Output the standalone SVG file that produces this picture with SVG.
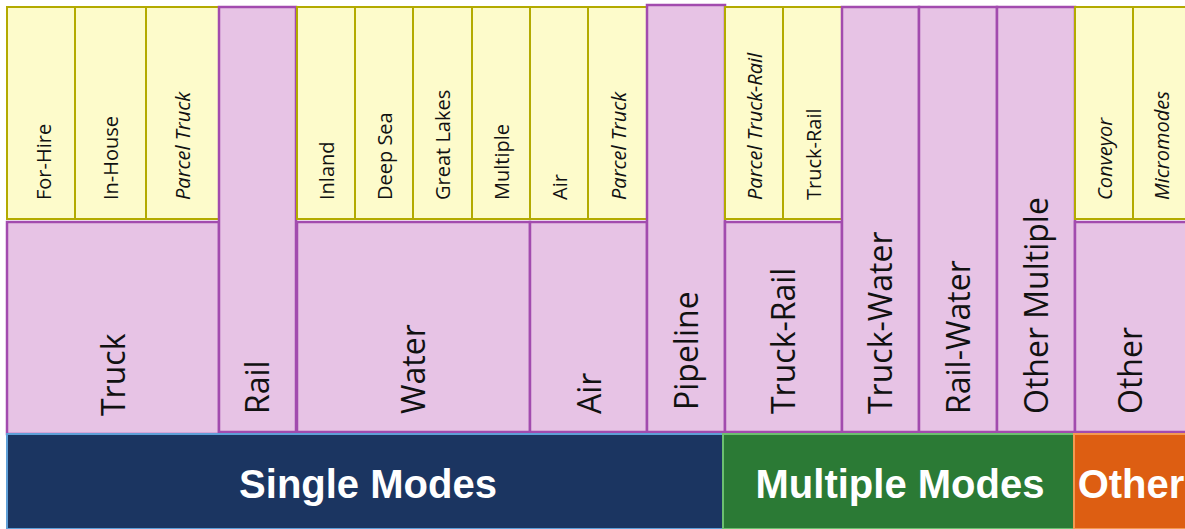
<svg xmlns="http://www.w3.org/2000/svg" width="1185" height="529" viewBox="0 0 1185 529">
<style>
.y{fill:#FDFBCB;stroke:#B3AA00;stroke-width:2}
.p{fill:#E7C3E5;stroke:#A24BAE;stroke-width:2.5}
.ty{font-family:"Open Sans","Liberation Sans",Arial,sans-serif;font-size:20px;fill:#111}
.ti{font-style:italic}
.tp{font-family:"Open Sans","Liberation Sans",Arial,sans-serif;font-size:32px;fill:#111}
.tb{font-family:"Liberation Sans",Arial,sans-serif;font-size:40px;font-weight:bold;fill:#fff;text-anchor:middle}
</style>
<rect width="1185" height="529" fill="#fff"/>
<g id="connectors"/>
<g id="truck">
<rect class="y" x="7" y="7" width="68" height="212"/>
<rect class="y" x="75" y="7" width="71" height="212"/>
<rect class="y" x="146" y="7" width="73" height="212"/>
<rect class="p" x="7" y="222" width="212" height="212"/>
<text class="ty" transform="translate(51,200) rotate(-90)">For-Hire</text>
<text class="ty" transform="translate(118,200) rotate(-90)">In-House</text>
<text class="ty ti" transform="translate(190,200) rotate(-90)">Parcel Truck</text>
<text class="tp" transform="translate(125,416) rotate(-90)">Truck</text>
</g>
<g id="rail">
<rect class="p" x="219" y="7" width="77" height="425"/>
<text class="tp" transform="translate(269,414) rotate(-90)">Rail</text>
</g>
<g id="water">
<rect class="y" x="297" y="7" width="58" height="212"/>
<rect class="y" x="355" y="7" width="58" height="212"/>
<rect class="y" x="413" y="7" width="59" height="212"/>
<rect class="y" x="472" y="7" width="58" height="212"/>
<rect class="p" x="297" y="222" width="233" height="210"/>
<text class="ty" transform="translate(334,200) rotate(-90)">Inland</text>
<text class="ty" transform="translate(392,200) rotate(-90)">Deep Sea</text>
<text class="ty" transform="translate(450,200) rotate(-90)">Great Lakes</text>
<text class="ty" transform="translate(509,200) rotate(-90)">Multiple</text>
<text class="tp" transform="translate(425,414) rotate(-90)">Water</text>
</g>
<g id="air">
<rect class="y" x="530" y="7" width="58" height="212"/>
<rect class="y" x="588" y="7" width="59" height="212"/>
<rect class="p" x="530" y="222" width="117" height="210"/>
<text class="ty" transform="translate(567,200) rotate(-90)">Air</text>
<text class="ty ti" transform="translate(626,200) rotate(-90)">Parcel Truck</text>
<text class="tp" transform="translate(601,414) rotate(-90)">Air</text>
</g>
<g id="pipeline">
<rect class="p" x="647" y="5" width="78" height="427"/>
<text class="tp" transform="translate(698,410) rotate(-90)">Pipeline</text>
</g>
<g id="truck-rail">
<rect class="y" x="725" y="7" width="58" height="212"/>
<rect class="y" x="783" y="7" width="59" height="212"/>
<rect class="p" x="725" y="222" width="117" height="210"/>
<text class="ty ti" transform="translate(762,200) rotate(-90)">Parcel Truck-Rail</text>
<text class="ty" transform="translate(821,200) rotate(-90)">Truck-Rail</text>
<text class="tp" transform="translate(795,414) rotate(-90)">Truck-Rail</text>
</g>
<g id="truck-water">
<rect class="p" x="842" y="7" width="77" height="425"/>
<text class="tp" transform="translate(892,414) rotate(-90)">Truck-Water</text>
</g>
<g id="rail-water">
<rect class="p" x="919" y="7" width="78" height="425"/>
<text class="tp" transform="translate(970,414) rotate(-90)">Rail-Water</text>
</g>
<g id="other-multiple">
<rect class="p" x="997" y="7" width="78" height="425"/>
<text class="tp" transform="translate(1048,414) rotate(-90)">Other Multiple</text>
</g>
<g id="other">
<rect class="y" x="1075" y="7" width="58" height="212"/>
<rect class="y" x="1133" y="7" width="58" height="212"/>
<rect class="p" x="1075" y="222" width="116" height="210"/>
<text class="ty ti" transform="translate(1112,200) rotate(-90)">Conveyor</text>
<text class="ty ti" transform="translate(1169,200) rotate(-90)">Micromodes</text>
<text class="tp" transform="translate(1142,414) rotate(-90)">Other</text>
</g>
<g id="single-modes">
<rect x="7" y="434" width="716" height="95" fill="#1B3561" stroke="#5FA0D8" stroke-width="2"/>
<text class="tb" x="368" y="498">Single Modes</text>
</g>
<g id="multiple-modes">
<rect x="723" y="434" width="351" height="95" fill="#2B7A35" stroke="#6CC070" stroke-width="2"/>
<text class="tb" x="900" y="498">Multiple Modes</text>
</g>
<g id="other-modes">
<rect x="1074" y="434" width="115" height="95" fill="#DD5E12" stroke="#F49A50" stroke-width="2"/>
<text class="tb" x="1131" y="498">Other</text>
</g>
</svg>
